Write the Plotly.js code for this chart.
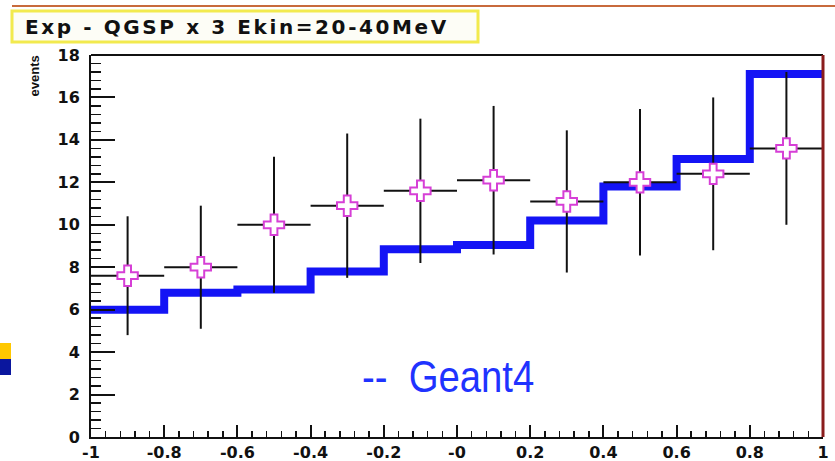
<!DOCTYPE html>
<html>
<head>
<meta charset="utf-8">
<script src="https://cdn.plot.ly/plotly-3.0.1.min.js"></script>
<style>
  html, body { margin: 0; padding: 0; background: #ffffff; }
  #chart { width: 835px; height: 461px; }
  /* wide ROOT-style lettering for the title, condensed lettering for the model label */
  g.annotation[data-index="0"] text { letter-spacing: 2.6px; }
  g.annotation[data-index="2"] text { transform-box: fill-box; transform-origin: left center; transform: scaleX(0.87); }
</style>
</head>
<body>
<div id="chart"></div>
<script>
// Bin layout: 10 bins of width 0.2 between -1 and 1
var binEdges = [-1, -0.8, -0.6, -0.4, -0.2, 0, 0.2, 0.4, 0.6, 0.8, 1];
var binCenters = [-0.9, -0.7, -0.5, -0.3, -0.1, 0.1, 0.3, 0.5, 0.7, 0.9];
var binHalfWidth = [0.1, 0.1, 0.1, 0.1, 0.1, 0.1, 0.1, 0.1, 0.1, 0.1];

// Measured events with their statistical errors
var expEvents = [7.6, 8.0, 10.0, 10.9, 11.6, 12.1, 11.1, 12.0, 12.4, 13.6];
var expErrors = [2.8, 2.9, 3.2, 3.4, 3.4, 3.5, 3.35, 3.45, 3.6, 3.6];

// Geant4 QGSP prediction (scaled x3)
var geant4Events = [6.0, 6.8, 6.95, 7.8, 8.85, 9.05, 10.2, 11.8, 13.1, 17.1];

// Axis tick labels
var xTickVals = [-1, -0.8, -0.6, -0.4, -0.2, 0, 0.2, 0.4, 0.6, 0.8, 1];
var xTickText = ['-1', '-0.8', '-0.6', '-0.4', '-0.2', '-0', '0.2', '0.4', '0.6', '0.8', '1'];
var yTickVals = [0, 2, 4, 6, 8, 10, 12, 14, 16, 18];
var yTickText = ['0', '2', '4', '6', '8', '10', '12', '14', '16', '18'];

var titleText = 'Exp - QGSP x 3 Ekin=20-40MeV';
var yTitleText = 'events';
var legendText = '--\u00a0 Geant4';

// Step histogram: one point per bin edge, last value repeated to close the last bin
var stepY = geant4Events.concat([geant4Events[geant4Events.length - 1]]);

var W = 835, H = 461;
var L = 91, R = 12, T = 55, B = 24;
var pw = W - L - R, ph = H - T - B;
function px(x) { return (x - L) / pw; }
function py(y) { return (H - B - y) / ph; }

var tickFont = { family: 'DejaVu Sans', size: 16, color: '#111111', weight: 'bold' };

var traces = [
  {
    type: 'scatter',
    mode: 'lines',
    x: binEdges,
    y: stepY,
    line: { shape: 'hv', color: '#1414f5', width: 8 },
    hoverinfo: 'skip'
  },
  {
    type: 'scatter',
    mode: 'markers',
    x: binCenters,
    y: expEvents,
    error_y: { type: 'data', array: expErrors, visible: true, color: '#111111', thickness: 2, width: 0 },
    error_x: { type: 'data', array: binHalfWidth, visible: true, color: '#111111', thickness: 2, width: 0 },
    marker: { symbol: 'cross', size: 17, color: '#ffffff', line: { color: '#d63fd6', width: 2 } },
    hoverinfo: 'skip'
  }
];

var layout = {
  width: W,
  height: H,
  margin: { l: L, r: R, t: T, b: B, pad: 0 },
  paper_bgcolor: '#ffffff',
  plot_bgcolor: '#ffffff',
  showlegend: false,
  xaxis: {
    range: [-1, 1],
    tickmode: 'array',
    tickvals: xTickVals,
    ticktext: xTickText,
    ticks: 'inside',
    ticklen: 12,
    tickwidth: 2,
    tickcolor: '#111111',
    minor: { dtick: 0.04, ticks: 'inside', ticklen: 6, tickwidth: 1.5, tickcolor: '#111111', showgrid: false },
    showgrid: false,
    zeroline: false,
    showline: true,
    linecolor: '#111111',
    linewidth: 2,
    tickfont: tickFont,
    ticklabelstandoff: 0
  },
  yaxis: {
    range: [0, 18],
    tickmode: 'array',
    tickvals: yTickVals,
    ticktext: yTickText,
    ticks: 'inside',
    ticklen: 24,
    tickwidth: 2,
    tickcolor: '#111111',
    minor: { dtick: 0.4, ticks: 'inside', ticklen: 10, tickwidth: 1.5, tickcolor: '#111111', showgrid: false },
    showgrid: false,
    zeroline: false,
    showline: true,
    linecolor: '#111111',
    linewidth: 2,
    tickfont: tickFont,
    ticklabelstandoff: 6
  },
  shapes: [
    // thin rule across the top of the page
    { type: 'line', xref: 'paper', yref: 'paper', x0: px(12), x1: px(835), y0: py(6), y1: py(6),
      line: { color: '#c86a3c', width: 2 } },
    // title box
    { type: 'rect', xref: 'paper', yref: 'paper', x0: px(12), x1: px(478), y0: py(42), y1: py(11),
      line: { color: '#f2ea4e', width: 3 }, fillcolor: '#fdfdf6', layer: 'below' },
    // frame: top and right edges
    { type: 'line', xref: 'paper', yref: 'paper', x0: 0, x1: 1, y0: 1, y1: 1,
      line: { color: '#111111', width: 2 } },
    { type: 'line', xref: 'paper', yref: 'paper', x0: 1, x1: 1, y0: 0, y1: 1,
      line: { color: '#8a1c1c', width: 3 } },
    // small coloured blocks on the left edge
    { type: 'rect', xref: 'paper', yref: 'paper', x0: px(0), x1: px(11), y0: py(359), y1: py(343),
      line: { width: 0 }, fillcolor: '#ffc800' },
    { type: 'rect', xref: 'paper', yref: 'paper', x0: px(0), x1: px(11), y0: py(375), y1: py(359),
      line: { width: 0 }, fillcolor: '#0a169e' }
  ],
  annotations: [
    { xref: 'paper', yref: 'paper', x: px(23), y: py(27), xanchor: 'left', yanchor: 'middle', align: 'left',
      text: titleText, showarrow: false,
      font: { family: 'DejaVu Sans', size: 20, color: '#111111', weight: 'bold' } },
    { xref: 'paper', yref: 'paper', x: px(34), y: py(54), xanchor: 'center', yanchor: 'top',
      text: yTitleText, textangle: -90, showarrow: false,
      font: { family: 'Liberation Sans', size: 13, color: '#111111', weight: 'bold' } },
    { xref: 'paper', yref: 'paper', x: px(360), y: py(376), xanchor: 'left', yanchor: 'middle', align: 'left',
      text: legendText, showarrow: false,
      font: { family: 'Liberation Sans', size: 44, color: '#1f33ff' } }
  ]
};

Plotly.newPlot('chart', traces, layout, { displayModeBar: false, staticPlot: true });
</script>
</body>
</html>
